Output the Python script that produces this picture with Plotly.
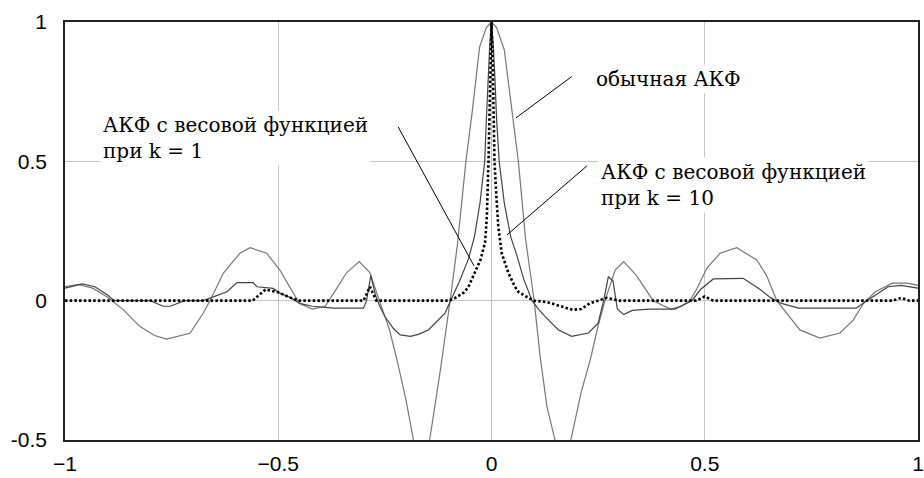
import plotly.graph_objects as go

# Time lag axis and three autocorrelation estimates
ordinary_x = [-1.0, -0.97, -0.935, -0.902, -0.863, -0.824, -0.79, -0.762, -0.707, -0.676, -0.66,
              -0.629, -0.59, -0.566, -0.527, -0.496, -0.472, -0.45, -0.42, -0.39, -0.37, -0.34,
              -0.31, -0.285, -0.263, -0.24, -0.222, -0.2, -0.183, -0.165, -0.145, -0.12, -0.097,
              -0.08, -0.06, -0.045, -0.028, -0.012, 0.0, 0.012, 0.03, 0.048, 0.063, 0.08, 0.1,
              0.114, 0.13, 0.149, 0.167, 0.186, 0.21, 0.232, 0.25, 0.266, 0.29, 0.31, 0.34, 0.379,
              0.42, 0.445, 0.465, 0.48, 0.505, 0.536, 0.575, 0.622, 0.645, 0.669, 0.692, 0.723,
              0.77, 0.817, 0.848, 0.872, 0.9, 0.94, 0.975, 1.0]
ordinary_y = [0.05, 0.058, 0.045, 0.014, -0.033, -0.093, -0.125, -0.138, -0.117, -0.045, 0.0,
              0.098, 0.17, 0.19, 0.17, 0.11, 0.046, -0.01, -0.03, -0.02, 0.027, 0.1,
              0.14, 0.1, 0.0, -0.1, -0.21, -0.36, -0.5, -0.65, -0.5, -0.25, 0.0,
              0.2, 0.5, 0.68, 0.91, 0.98, 1.0, 0.98, 0.9, 0.68, 0.5, 0.22, 0.0,
              -0.2, -0.38, -0.5, -0.65, -0.5, -0.33, -0.21, -0.09, 0.0, 0.11, 0.14, 0.09, 0.0,
              -0.03, -0.02, 0.0, 0.038, 0.117, 0.17, 0.19, 0.146, 0.09, 0.0, -0.045, -0.105,
              -0.134, -0.116, -0.07, -0.01, 0.032, 0.063, 0.063, 0.055]

k1_x = [-1.0, -0.96, -0.93, -0.9, -0.885, -0.8, -0.77, -0.753, -0.72, -0.676, -0.62, -0.597,
        -0.559, -0.55, -0.512, -0.496, -0.47, -0.45, -0.42, -0.37, -0.30, -0.293, -0.283,
        -0.272, -0.262, -0.25, -0.23, -0.214, -0.19, -0.17, -0.148, -0.125, -0.109, -0.096,
        -0.075, -0.054, -0.04, -0.027, -0.016, -0.012, -0.008, -0.004, 0.0, 0.004, 0.008,
        0.012, 0.018, 0.03, 0.045, 0.06, 0.075, 0.095, 0.11, 0.126, 0.157, 0.188, 0.227,
        0.25, 0.263, 0.274, 0.285, 0.295, 0.31, 0.33, 0.37, 0.43, 0.47, 0.49, 0.52, 0.59,
        0.63, 0.655, 0.68, 0.72, 0.855, 0.88, 0.93, 0.96, 1.0]
k1_y = [0.045, 0.06, 0.05, 0.02, 0.0, 0.0, -0.02, -0.02, 0.0, 0.0, 0.032, 0.065,
        0.065, 0.05, 0.044, 0.027, 0.01, -0.01, -0.02, -0.027, -0.027, 0.0, 0.09,
        0.02, -0.02, -0.057, -0.1, -0.123, -0.128, -0.12, -0.105, -0.07, -0.045, 0.0,
        0.07, 0.15, 0.23, 0.35, 0.5, 0.65, 0.8, 0.92, 1.0, 0.92, 0.8,
        0.65, 0.5, 0.35, 0.23, 0.16, 0.08, 0.0, -0.03, -0.057, -0.105, -0.128, -0.116,
        -0.081, 0.0, 0.086, 0.07, -0.03, -0.05, -0.035, -0.03, -0.03, 0.0, 0.04, 0.078, 0.08,
        0.04, 0.01, -0.01, -0.027, -0.027, 0.0, 0.05, 0.055, 0.045]

k10_x = [-1.0, -0.75, -0.56, -0.53, -0.5, -0.47, -0.45, -0.30, -0.285, -0.27, -0.1, -0.085,
         -0.064, -0.054, -0.039, -0.026, -0.015, -0.011, -0.007, -0.003, 0.0, 0.003, 0.007,
         0.011, 0.016, 0.024, 0.04, 0.055, 0.064, 0.087, 0.1, 0.13, 0.16, 0.19, 0.21, 0.23,
         0.25, 0.27, 0.3, 0.48, 0.5, 0.52, 0.94, 0.96, 0.98, 1.0]
k10_y = [0.0, 0.0, 0.0, 0.04, 0.03, 0.01, 0.0, 0.0, 0.05, 0.0, 0.0, 0.01,
         0.03, 0.05, 0.1, 0.146, 0.21, 0.3, 0.5, 0.85, 1.0, 0.85, 0.5,
         0.385, 0.265, 0.17, 0.098, 0.05, 0.03, 0.01, 0.0, -0.005, -0.02, -0.033, -0.03, -0.01,
         0.0, 0.01, 0.0, 0.0, 0.015, 0.0, 0.0, 0.01, 0.0, 0.0]

tick_vals_x = [-1, -0.5, 0, 0.5, 1]
tick_text_x = ["\u22121", "\u22120.5", "0", "0.5", "1"]
tick_vals_y = [-0.5, 0, 0.5, 1]
tick_text_y = ["-0.5", "0", "0.5", "1"]

label_ordinary = "обычная АКФ"
label_k1 = "АКФ с весовой функцией<br>при k = 1"
label_k10 = "АКФ с весовой функцией<br>при k = 10"

fig = go.Figure()
fig.add_trace(go.Scatter(x=ordinary_x, y=ordinary_y, mode="lines",
                         line=dict(color="#777777", width=1.2), showlegend=False))
fig.add_trace(go.Scatter(x=k1_x, y=k1_y, mode="lines",
                         line=dict(color="#444444", width=1.2), showlegend=False))
fig.add_trace(go.Scatter(x=k10_x, y=k10_y, mode="lines",
                         line=dict(color="#000000", width=2.6, dash="2.5px,2.2px"),
                         showlegend=False))

serif = dict(family="DejaVu Serif", size=20, color="black")

# curve labels with white boxes that break the grid behind them
fig.add_annotation(x=0.238, y=0.795, xref="x", yref="y", text=label_ordinary,
                   showarrow=False, xanchor="left", yanchor="middle", font=serif,
                   bgcolor="white", borderpad=2)
fig.add_annotation(x=-0.918, y=0.584, xref="x", yref="y", text=label_k1, align="left",
                   showarrow=False, xanchor="left", yanchor="middle", font=serif,
                   bgcolor="white", borderpad=2)
fig.add_annotation(x=0.25, y=0.415, xref="x", yref="y", text=label_k10, align="left",
                   showarrow=False, xanchor="left", yanchor="middle", font=serif,
                   bgcolor="white", borderpad=2)

# leader lines from labels to curves
leaders = [((0.188, 0.804), (0.0574, 0.656)),
           ((-0.219, 0.624), (-0.041, 0.125)),
           ((0.224, 0.484), (0.0363, 0.236))]
for (x0, y0), (x1, y1) in leaders:
    fig.add_shape(type="line", x0=x0, y0=y0, x1=x1, y1=y1, xref="x", yref="y",
                  line=dict(color="black", width=1), layer="above")

tick_font = dict(family="Liberation Sans", size=21, color="black")
fig.update_xaxes(range=[-1, 1], tickvals=tick_vals_x, ticktext=tick_text_x,
                 showgrid=True, gridcolor="#c4c4c4", gridwidth=1,
                 zeroline=True, zerolinecolor="#c4c4c4", zerolinewidth=1,
                 showline=True, linecolor="#222222", linewidth=1.5, mirror=True,
                 ticks="", tickfont=tick_font, ticklabelstandoff=4, automargin=False)
fig.update_yaxes(range=[-0.5, 1], tickvals=tick_vals_y, ticktext=tick_text_y,
                 showgrid=True, gridcolor="#c4c4c4", gridwidth=1,
                 zeroline=True, zerolinecolor="#c4c4c4", zerolinewidth=1,
                 showline=True, linecolor="#222222", linewidth=1.5, mirror=True,
                 ticks="", tickfont=tick_font, ticklabelstandoff=12, automargin=False)
fig.update_layout(width=924, height=478, margin=dict(l=65, r=6, t=22, b=38),
                  plot_bgcolor="white", paper_bgcolor="white")

fig.write_html("out.html")
